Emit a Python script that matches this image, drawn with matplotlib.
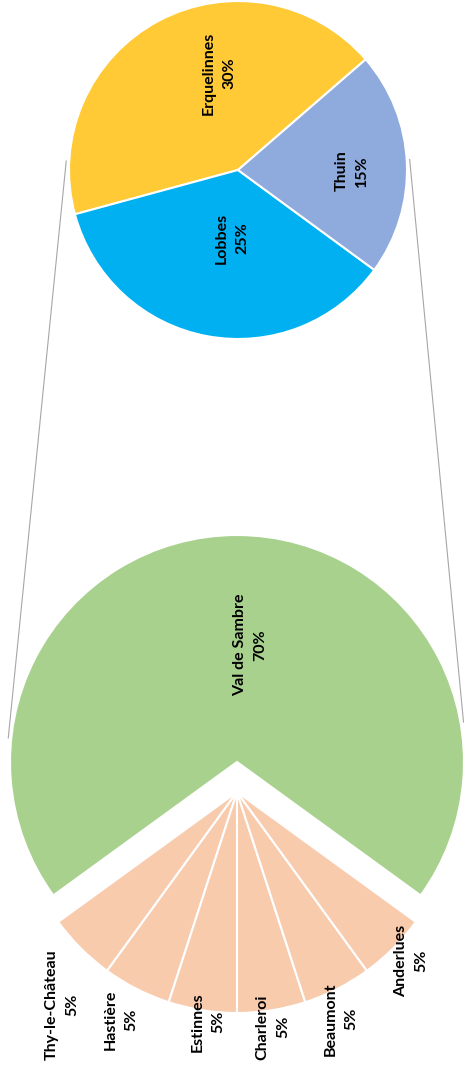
import numpy as np
import matplotlib.pyplot as plt

# main pie: Val de Sambre + the small communes
main_labels = ["Val de Sambre", "Thy-le-Château", "Hastière", "Estinnes",
               "Charleroi", "Beaumont", "Anderlues"]
main_values = [70, 5, 5, 5, 5, 5, 5]

# second pie: breakdown of Val de Sambre
sub_labels = ["Erquelinnes", "Lobbes", "Thuin"]
sub_values = [30, 25, 15]

green = "#a9d18e"
orange = "#f8cbad"
sub_colors = ["#ffca36", "#00b0f0", "#8faadc"]

W, H = 466, 1071
fig = plt.figure(figsize=(W / 100, H / 100), dpi=100)
ax = fig.add_axes([0, 0, 1, 1])
ax.set_xlim(0, W)
ax.set_ylim(0, H)
ax.set_aspect("equal")
ax.axis("off")

def py(y):
    # picture rows -> data y (y up)
    return H - y

main_c = (237, py(762))
main_r = 227
other_shift = 30      # small slices pulled down
other_r = 221
sub_c = (238, py(170))
sub_r = 169

total = sum(main_values)
start = 90 - main_values[0] / total * 360 / 2
wedges, _ = ax.pie(main_values, colors=[green] + [orange] * 6, startangle=start,
                   center=main_c, radius=main_r, counterclock=True,
                   wedgeprops=dict(edgecolor="white", linewidth=1.5))
for w in wedges[1:]:
    w.set_center((main_c[0], main_c[1] - other_shift))
    w.set_radius(other_r)

sub_start = 40.9
ax.pie(sub_values, colors=sub_colors, startangle=sub_start, center=sub_c,
       radius=sub_r, counterclock=True,
       wedgeprops=dict(edgecolor="white", linewidth=1.5))
ax.set_xlim(0, W)
ax.set_ylim(0, H)

# connector lines
def on_circle(c, r, deg):
    a = np.radians(deg)
    return c[0] + r * np.cos(a), c[1] + r * np.sin(a)

for a_sub, a_main in [(177, 174), (3.5, 10)]:
    p1 = on_circle(sub_c, sub_r + 3, a_sub)
    p2 = on_circle(main_c, main_r + 3, a_main)
    ax.plot([p1[0], p2[0]], [p1[1], p2[1]], color="#a6a6a6", lw=0.8, zorder=0)

font = dict(family=["Lato", "Liberation Sans", "DejaVu Sans"], fontsize=11.5,
            fontweight="bold", rotation=90, ha="center", va="center",
            linespacing=1.6)

main_label_pos = [(250, 645), (62, 1005), (121, 1020), (208, 1022),
                  (273, 1027), (341, 1019), (411, 961)]
for lab, v, (x, y) in zip(main_labels, main_values, main_label_pos):
    ax.text(x, py(y), f"{lab}\n{v}%", **font)

sub_label_pos = [(219, 73), (232, 238), (352, 171)]
for lab, v, (x, y) in zip(sub_labels, sub_values, sub_label_pos):
    ax.text(x, py(y), f"{lab}\n{v}%", **font)

fig.savefig("out.png", dpi=100)
